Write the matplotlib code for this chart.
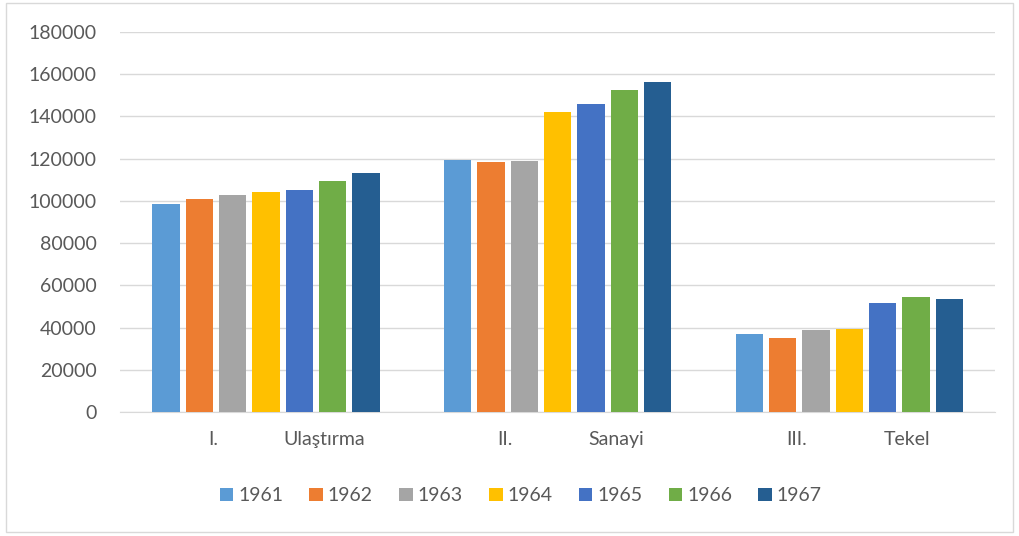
import numpy as np
import matplotlib
matplotlib.use("Agg")
import matplotlib.pyplot as plt
from matplotlib.patches import Rectangle
from matplotlib.transforms import blended_transform_factory

categories = [("I.", "Ulaştırma"), ("II.", "Sanayi"), ("III.", "Tekel")]
years = ["1961", "1962", "1963", "1964", "1965", "1966", "1967"]
values = {
    "1961": [98400, 119200, 37000],
    "1962": [100700, 118400, 35200],
    "1963": [102900, 118900, 38800],
    "1964": [104100, 142000, 39300],
    "1965": [105200, 146000, 51500],
    "1966": [109600, 152700, 54600],
    "1967": [113100, 156300, 53500],
}
colors = ["#5B9BD5", "#ED7D31", "#A5A5A5", "#FFC000", "#4472C4", "#70AD47", "#255E91"]

plt.rcParams["font.family"] = ["Lato", "DejaVu Sans"]
fs = 14

fig = plt.figure(figsize=(10.19, 5.36), dpi=100)
ax = fig.add_axes([0.1178, 0.2313, 0.8587, 0.709])

x = np.arange(len(categories))
slot = 0.8 / len(years)
width = slot * 0.82
for i, (yr, c) in enumerate(zip(years, colors)):
    ax.bar(x - 0.4 + slot * (i + 0.5), values[yr], width, color=c, label=yr, zorder=3)

ax.set_xlim(-0.5, 2.5)
ax.set_ylim(0, 180000)
ax.set_yticks(np.arange(0, 180001, 20000))
ax.tick_params(axis="y", length=0, pad=17, labelsize=fs, labelcolor="#595959")
ax.set_xticks([])
ax.grid(axis="y", color="#D9D9D9", linewidth=1, zorder=0)
for s in ["top", "right", "left"]:
    ax.spines[s].set_visible(False)
ax.spines["bottom"].set_color("#D9D9D9")

trans = blended_transform_factory(ax.transData, ax.transAxes)
for xi, (num, name) in zip(x, categories):
    ax.text(xi - 0.18, -0.05, num, transform=trans, ha="center", va="top",
            fontsize=fs, color="#595959")
    ax.text(xi + 0.2, -0.05, name, transform=trans, ha="center", va="top",
            fontsize=fs, color="#595959")

leg = fig.legend(loc="center", bbox_to_anchor=(0.511, 0.075), ncol=7, frameon=False,
                 handlelength=0.7, handleheight=0.7, handletextpad=0.25,
                 columnspacing=1.35, fontsize=fs)
for t in leg.get_texts():
    t.set_color("#595959")

fig.patches.append(Rectangle((0.006, 0.008), 0.988, 0.986, transform=fig.transFigure,
                             fill=False, edgecolor="#D9D9D9", linewidth=1))

fig.savefig("out.png", dpi=100)
